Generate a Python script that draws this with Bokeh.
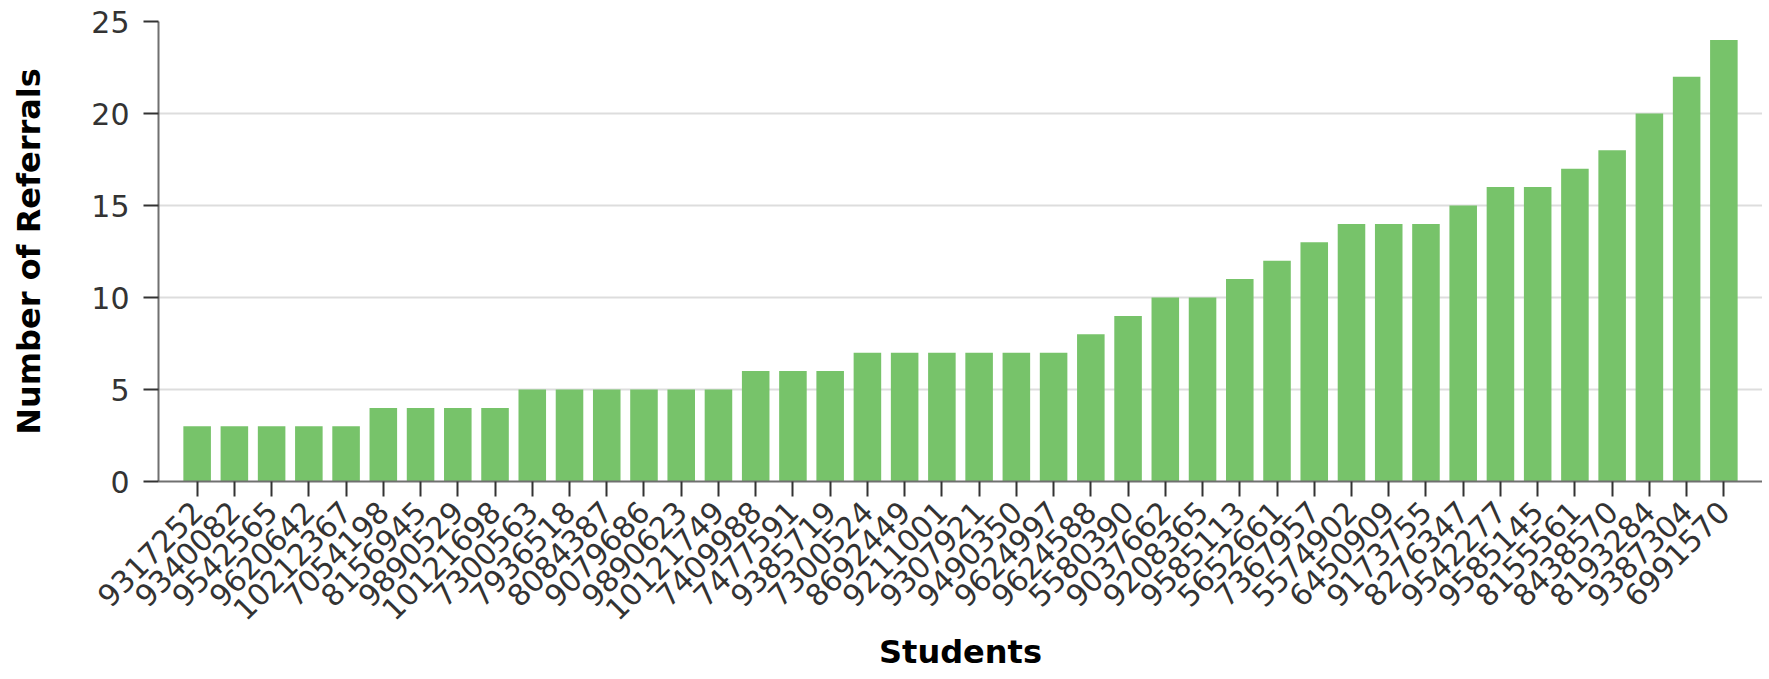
import math
from bokeh.plotting import figure
from bokeh.models import Range1d, FactorRange, SingleIntervalTicker
from bokeh.embed import file_html
from bokeh.resources import INLINE

students = [
    "9317252", "9340082", "9542565", "9620642", "10212367", "7054198",
    "8156945", "9890529", "10121698", "7300563", "7936518", "8084387",
    "9079686", "9890623", "10121749", "7409988", "7477591", "9385719",
    "7300524", "8692449", "9211001", "9307921", "9490350", "9624997",
    "9624588", "5580390", "9037662", "9208365", "9585113", "5652661",
    "7367957", "5574902", "6450909", "9173755", "8276347", "9542277",
    "9585145", "8155561", "8438570", "8193284", "9387304", "6991570",
]
referrals = [
    3, 3, 3, 3, 3, 4, 4, 4, 4, 5, 5, 5, 5, 5, 5, 6, 6, 6, 7, 7, 7,
    7, 7, 7, 8, 9, 10, 10, 11, 12, 13, 14, 14, 14, 15, 16, 16, 17, 18,
    20, 22, 24,
]

x_range = FactorRange(factors=students, range_padding=0.0256,
                      range_padding_units="percent")
p = figure(x_range=x_range, y_range=Range1d(0, 25),
           frame_width=1604, frame_height=460,
           min_border_left=158, min_border_right=0, min_border_top=21,
           min_border_bottom=150,
           output_backend="svg", toolbar_location=None)

p.vbar(x=students, top=referrals, width=0.74, color="#77c36a", line_color=None)

p.outline_line_color = None
p.xgrid.grid_line_color = None
p.ygrid.grid_line_color = "#dddddd"
p.ygrid.grid_line_width = 2
p.yaxis.ticker = SingleIntervalTicker(interval=5)

for ax in (p.xaxis[0], p.yaxis[0]):
    ax.axis_line_color = "#707070"
    ax.axis_line_width = 2
    ax.major_tick_line_color = "#333333"
    ax.major_tick_line_width = 2
    ax.major_tick_out = 15
    ax.major_tick_in = 0
    ax.minor_tick_line_color = None
    ax.major_label_text_font = "DejaVu Sans"
    ax.major_label_text_color = "#333333"
    ax.axis_label_text_font = "DejaVu Sans"
    ax.axis_label_text_font_style = "bold"
    ax.axis_label_text_font_size = "32px"
    ax.axis_label_text_color = "#000000"

p.xaxis.major_label_text_font_size = "30px"
p.yaxis.major_label_text_font_size = "30px"
p.xaxis.major_label_orientation = math.pi / 4
p.xaxis.major_label_standoff = 10
p.yaxis.major_label_standoff = 14
p.xaxis.axis_label = "Students"
p.yaxis.axis_label = "Number of Referrals"
p.xaxis.axis_label_standoff = 0
p.yaxis.axis_label_standoff = 40

open("out.html", "w").write(file_html(p, INLINE))
